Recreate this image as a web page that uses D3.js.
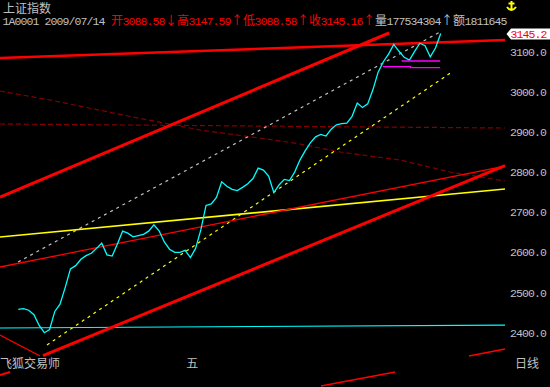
<!DOCTYPE html>
<html>
<head>
<meta charset="utf-8">
<script src="https://cdn.jsdelivr.net/npm/d3@7"></script>
<style>
  body { margin: 0; background: #000; }
  svg { display: block; }
  text { font-family: "Liberation Mono", "Noto Sans CJK SC", monospace; font-size: 11.5px; }
  text.wide { font-family: "Noto Sans CJK SC", sans-serif; font-size: 12px; }
</style>
</head>
<body>
<div class="canva"></div>
<script>
// daily closes, index 0..81 (last = 2009/07/14)
const closes = [2458, 2460, 2456, 2445, 2418, 2400, 2408, 2453, 2471, 2513,
  2559, 2567, 2583, 2592, 2598, 2610, 2623, 2594, 2591, 2621,
  2653, 2648, 2639, 2642, 2645, 2653, 2669, 2654, 2626, 2608,
  2600, 2600, 2605, 2587, 2610, 2656, 2717, 2721, 2737, 2776,
  2765, 2757, 2754, 2762, 2771, 2784, 2810, 2805, 2790, 2749,
  2768, 2782, 2779, 2800, 2830, 2853, 2873, 2888, 2894, 2890,
  2907, 2918, 2921, 2922, 2939, 2972, 2961, 2970, 3005, 3049,
  3075, 3094, 3118, 3101, 3086, 3079, 3101, 3121, 3115, 3087,
  3109, 3145.16];
const priceTicks = [2400, 2500, 2600, 2700, 2800, 2900, 3000, 3100];
const monthLabels = [[32, "五"]];

// drawn lines as [bar index, price] anchors
const flatTop = [[-3.51, 3084.3], [93.33, 3129.1]];
const upperChannel = [[-3.51, 2738], [71.1, 3146.6]];
const lowerChannel = [[4.74, 2343], [93.33, 2816]];
const vLeg = [[-3.51, 2394.2], [4.16, 2342]];
const midChannel = [[-3.51, 2563.6], [93.33, 2815.2]];
const yellowLine = [[-3.51, 2638.4], [93.33, 2758]];
const yellowDash = [[5.5, 2369.3], [83.16, 3049.4]];
const grayDash = [[-0.06, 2576], [80.86, 3149]];
const level2900 = [[-3.51, 2919.9], [93.33, 2909.9]];
const fanCurve = [[-3.51, 3002.1], [6.08, 2979.7], [21.99, 2937.3], [34.84, 2904.9], [47.69, 2882.5],
  [54.02, 2870], [61.69, 2850.1], [73.2, 2830.2], [82.78, 2800.3], [93.33, 2777.9]];
const cyanLevel = [[-3.51, 2411.7], [93.33, 2419.1]];
const magentaHigh = [[73.5, 3076.8], [80.9, 3076.8]];
const magentaLow = [[69.9, 3062.6], [75.2, 3062.6], [75.2, 3060.1], [80.9, 3060.1]];
const lowSegA = [[58.05, 2267.2], [72.24, 2302.1]];
const lowSegB = [[86.42, 2341.9], [93.33, 2359.4]];
const lowSegC = [[-3.51, 2294.6], [-1.59, 2302.1]];

const svg = d3.select(".canva").append("svg")
  .attr("width", 550)
  .attr("height", 387)
  .style("background", "#000");

const x = d3.scaleLinear().domain([0, 81]).range([18.3, 440.7]);
const y = d3.scaleLinear().domain([2400, 3100]).range([332.7, 51.7]);

const line = d3.line().x(d => x(d[0])).y(d => y(d[1]));

function drawLine(pts, color, width, dash) {
  svg.append("path")
    .datum(pts)
    .attr("d", line)
    .attr("fill", "none")
    .attr("stroke", color)
    .attr("stroke-width", width)
    .attr("stroke-dasharray", dash || null);
}

// text laid out on a 6px / 12px character grid
function drawRun(runs, x0, baseline) {
  let cx = x0;
  runs.forEach(([str, color]) => {
    for (const ch of str) {
      const wide = ch.charCodeAt(0) > 255;
      const w = wide ? 12 : 6;
      svg.append("text")
        .attr("class", wide ? "wide" : null)
        .attr("x", cx + w / 2)
        .attr("y", baseline)
        .attr("fill", color)
        .attr("text-anchor", "middle")
        .text(ch);
      cx += w;
    }
  });
}

// dashed guides
drawLine(level2900, "#800000", 1.2, "5,3");
drawLine(fanCurve, "#800000", 1.2, "5,3");
drawLine(grayDash, "#c0c0c0", 1.2, "3,4");
drawLine(yellowDash, "#ffff00", 1.2, "3,4");

// solid guides
drawLine(cyanLevel, "#00ffff", 1.2);
drawLine(yellowLine, "#ffff00", 1.6);
drawLine(midChannel, "#ff0000", 1.3);
drawLine(vLeg, "#ff0000", 1.3);
drawLine(lowSegA, "#ff0000", 1.5);
drawLine(lowSegB, "#ff0000", 1.5);
drawLine(lowSegC, "#ff0000", 2);
drawLine(flatTop, "#ff0000", 2.5);
drawLine(upperChannel, "#ff0000", 3);
drawLine(lowerChannel, "#ff0000", 3);

// price
drawLine(closes.map((c, i) => [i, c]), "#00ffff", 1.3);

drawLine(magentaHigh, "#ff00ff", 1.3);
drawLine(magentaLow, "#ff00ff", 1.3);

// right axis
svg.append("g")
  .attr("transform", "translate(505,0)")
  .call(d3.axisRight(y).tickValues(priceTicks).tickSize(0).tickFormat(d3.format(".1f")))
  .call(g => g.select(".domain").remove())
  .call(g => g.selectAll("text").remove());
priceTicks.forEach(t => drawRun([[d3.format(".1f")(t), "#c0c0c0"]], 510.5, y(t) + 4));

// last price tag
const last = closes[closes.length - 1];
const ly = y(last);
svg.append("path")
  .attr("d", `M506.5,${ly + 0.5}L511,${ly - 5}L550,${ly - 5}L550,${ly + 6}L511,${ly + 6}Z`)
  .attr("fill", "#ffffff");
drawRun([[d3.format(".1f")(last), "#ff0000"]], 511, ly + 4.5);

// anchor mark
svg.append("path")
  .attr("d", "M511.5,1V10.5M508.5,3.5H514.5M507,7Q511.5,13 516,7")
  .attr("fill", "none")
  .attr("stroke", "#ffff00")
  .attr("stroke-width", 2);

// header
drawRun([["上证指数", "#c0c0c0"]], 3, 13);
drawRun([
  ["1A0001 2009/07/14 ", "#c0c0c0"],
  ["开3088.58↓高3147.59↑低3088.58↑收3145.16↑", "#ff0000"],
  ["量177534304↑额1811645", "#c0c0c0"]
], 3, 24.5);

// bottom labels
drawRun([["飞狐交易师", "#c0c0c0"]], 0, 368);
monthLabels.forEach(([i, m]) => drawRun([[m, "#c0c0c0"]], x(i) + 1, 368));
drawRun([["日线", "#c0c0c0"]], 515, 368);
</script>
</body>
</html>
